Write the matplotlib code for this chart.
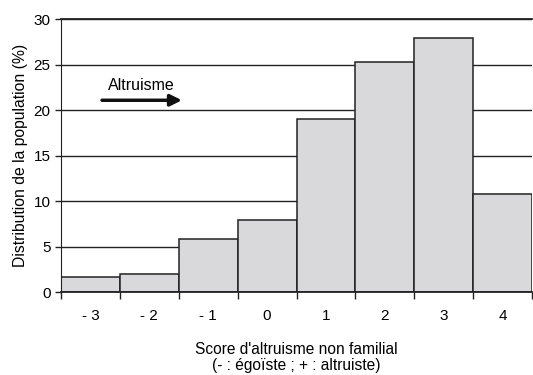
import numpy as np
import matplotlib.pyplot as plt

plt.rcParams["font.family"] = ["Liberation Sans", "DejaVu Sans"]

# Data
scores = ["- 3", "- 2", "- 1", "0", "1", "2", "3", "4"]
shares = [1.65, 1.95, 5.8, 7.95, 19.0, 25.35, 28.0, 10.8]

fig = plt.figure(figsize=(5.33, 3.75), dpi=100)
ax = fig.add_axes([0.1144, 0.2213, 0.884, 0.727])

x = np.arange(len(scores))
ax.set_axisbelow(True)
ax.yaxis.grid(True, color="#222222", linewidth=1.0)
ax.bar(x, shares, width=1.0, color="#d9d9dc", edgecolor="#222222", linewidth=1.1, zorder=2)

ax.set_xlim(-0.5, len(scores) - 0.5)
ax.set_ylim(0, 30)
ax.set_yticks(np.arange(0, 31, 5))
ax.axhline(30, color="#222222", linewidth=1.3, clip_on=False)

# ticks at bin edges, labels at bin centers
ax.set_xticks(np.arange(len(scores) + 1) - 0.5)
ax.set_xticklabels([])
ax.tick_params(axis="x", which="major", direction="out", length=5, width=1, color="#222222")
ax.set_xticks(x, minor=True)
ax.set_xticklabels(scores, minor=True, fontsize=11)
ax.tick_params(axis="x", which="minor", length=0, pad=12)
ax.tick_params(axis="y", direction="out", length=4, width=1, labelsize=11, color="#222222")

for side in ["top", "right"]:
    ax.spines[side].set_visible(False)
ax.spines["left"].set_color("#222222")
ax.spines["bottom"].set_color("#222222")
ax.spines["bottom"].set_linewidth(1.3)

ax.set_ylabel("Distribution de la population (%)", fontsize=11.3, labelpad=4)
ax.set_xlabel("Score d'altruisme non familial\n(- : égoïste ; + : altruiste)",
              fontsize=11.2, labelpad=14, linespacing=1.05)

ax.annotate("", xy=(1.6, 21.1), xytext=(0.15, 21.1),
            arrowprops=dict(arrowstyle="-|>", color="#111111", lw=2.5, mutation_scale=17))
ax.text(0.86, 21.9, "Altruisme", ha="center", va="bottom", fontsize=11.5)

fig.savefig("out.png", dpi=100)
